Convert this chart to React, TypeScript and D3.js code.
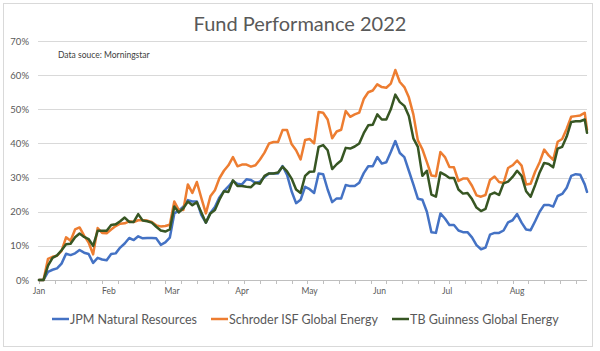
import React from 'react';
import * as d3 from 'd3';

// Calendar day offsets from 1 Jan 2022 at which values were read
const dayOffsets = [
  0, 2, 4, 6, 8, 10, 12, 14, 16, 18, 20, 22, 24, 26, 28, 30, 32, 34, 36, 38,
  40, 42, 44, 46, 48, 50, 52, 54, 56, 58, 60, 62, 64, 66, 68, 70, 72, 74, 76, 78,
  80, 82, 84, 86, 88, 90, 92, 94, 96, 98, 100, 102, 104, 106, 108, 110, 112, 114, 116, 118,
  120, 122, 124, 126, 128, 130, 132, 134, 136, 138, 140, 142, 144, 146, 148, 150, 152, 154, 156, 158,
  160, 162, 164, 166, 168, 170, 172, 174, 176, 178, 180, 182, 184, 186, 188, 190, 192, 194, 196, 198,
  200, 202, 204, 206, 208, 210, 212, 214, 216, 218, 220, 222, 224, 226, 228, 230, 232, 234, 236, 238,
  240, 242, 243,
];

const jpm = [
  0, 0, 2.4, 3.0, 3.4, 4.8, 7.7, 7.3, 7.8, 8.8, 8.0, 7.6, 5.0, 6.5, 6.0, 5.8, 7.6, 7.8, 9.5, 10.7,
  12.3, 11.7, 12.8, 12.2, 12.3, 12.3, 12.2, 10.3, 11.0, 12.4, 19.5, 20.3, 21.5, 23.4, 23.0, 23.0, 19.0, 16.8, 19.6, 21.4,
  24.2, 26.0, 27.4, 29.0, 28.2, 28.0, 29.5, 29.3, 28.4, 28.8, 30.2, 31.2, 31.2, 31.2, 33.4, 30.8, 26.0, 22.5, 23.5, 27.3,
  26.6, 25.5, 31.2, 31.0, 26.5, 22.8, 23.9, 23.9, 27.8, 27.5, 27.5, 28.5, 31.3, 33.3, 33.3, 36.0, 34.1, 34.5, 37.5, 40.7,
  37.2, 36.0, 32.0, 28.0, 23.8, 23.5, 20.0, 14.0, 13.8, 19.5, 18.0, 16.1, 16.1, 14.5, 14.0, 14.0, 12.5, 10.2, 9.0, 9.5,
  13.3, 13.8, 13.8, 14.5, 16.9, 17.5, 19.3, 16.8, 14.8, 14.6, 17.2, 20.0, 22.0, 22.0, 21.5, 24.6, 25.2, 27.0, 30.5, 31.0,
  30.8, 28.0, 25.8,
];

const schroder = [
  0, 0, 6.2, 6.8, 7.1, 8.5, 12.5, 11.5, 14.8, 15.4, 13.0, 11.0, 7.5, 15.2, 13.8, 13.7, 14.8, 15.8, 16.5, 16.6,
  17.2, 17.0, 17.5, 17.5, 17.4, 17.0, 16.0, 15.7, 15.8, 16.2, 23.0, 20.5, 20.5, 28.0, 25.5, 28.7, 24.0, 19.5, 24.5, 26.3,
  29.8, 32.0, 33.6, 36.0, 33.3, 33.8, 33.8, 33.2, 33.6, 35.3, 37.3, 40.0, 40.4, 40.4, 43.9, 43.9, 39.8, 38.0, 35.3, 41.0,
  41.3, 40.0, 49.2, 49.0, 47.0, 41.5, 43.5, 44.0, 49.5, 47.8, 48.5, 49.0, 53.0, 55.0, 55.5, 57.3, 56.5, 56.3, 57.5, 61.5,
  58.0, 56.5, 53.5, 48.5, 40.9, 38.3, 34.5, 30.6, 30.4, 37.5, 36.0, 33.1, 33.0, 29.0, 29.7, 29.7, 27.6, 24.8, 24.4, 24.9,
  29.3, 30.3, 28.7, 28.4, 32.8, 33.6, 35.0, 33.5, 28.0, 28.2, 31.7, 34.5, 38.2, 36.5, 35.2, 40.5, 41.3, 44.3, 47.8, 48.0,
  48.2, 49.0, 44.0,
];

const guinness = [
  0, 0, 4.2, 6.5, 7.2, 8.7, 10.5, 10.6, 12.5, 13.6, 12.6, 12.0, 10.0, 14.4, 14.4, 14.4, 16.1, 16.3, 17.2, 18.3,
  17.0, 17.0, 19.3, 17.4, 17.2, 16.8, 15.6, 14.5, 14.2, 14.8, 21.5, 19.8, 21.0, 23.0, 21.9, 22.8, 19.8, 16.8, 19.5, 20.5,
  23.5, 26.0, 25.8, 29.2, 27.5, 27.5, 27.3, 27.2, 28.5, 28.2, 30.5, 31.2, 31.2, 31.5, 33.2, 31.8, 29.7, 26.5, 25.5, 30.5,
  31.7, 31.8, 39.0, 39.5, 38.0, 32.5, 33.9, 35.0, 38.7, 38.5, 39.1, 40.0, 43.0, 45.3, 45.5, 48.5, 47.0, 47.0, 50.0, 54.3,
  52.1, 51.0, 48.0, 41.5, 39.0, 30.5, 32.0, 25.0, 24.4, 31.5, 30.8, 29.9, 29.9, 26.5, 25.3, 25.5, 23.7, 21.2, 20.2, 20.8,
  25.0, 25.6, 24.9, 28.3, 28.8, 30.2, 32.0, 30.5, 26.0, 24.4, 27.8, 31.5, 34.3, 34.0, 33.0, 38.5, 39.0, 42.0, 46.3, 46.5,
  46.5, 47.0, 43.1,
];

const seriesNames = ['JPM Natural Resources', 'Schroder ISF Global Energy', 'TB Guinness Global Energy'];
const seriesColors = ['#4472C4', '#ED7D31', '#375623'];
const yTicks = [0, 10, 20, 30, 40, 50, 60, 70];
const monthLabels = ['Jan', 'Feb', 'Mar', 'Apr', 'May', 'Jun', 'Jul', 'Aug'];
const titleText = 'Fund Performance 2022';
const sourceText = 'Data souce: Morningstar';

const W = 600;
const H = 351;
const FONT = 'Lato, "Open Sans", sans-serif';

export default function App() {
  const start = new Date(2022, 0, 1);
  const end = new Date(2022, 8, 1);
  const x = d3.scaleTime().domain([start, end]).range([39, 587]);
  const y = d3.scaleLinear().domain([0, 70]).range([280, 41]);
  const dates = dayOffsets.map((d) => d3.timeDay.offset(start, d));
  const allSeries = [jpm, schroder, guinness];
  const line = d3
    .line<[Date, number]>()
    .x((d) => x(d[0]))
    .y((d) => y(d[1]));

  const weekTicks = d3.timeSaturday.range(start, d3.timeDay.offset(end, 1));
  const monthTicks = d3.timeMonth.range(start, end);
  const [x0, x1] = x.range();

  const legendX = [52, 211, 392];
  const legendY = 319;

  return (
    <div style={{ position: 'fixed', left: 0, top: 0 }}>
      <svg width={W} height={H} style={{ display: 'block', background: '#fff' }}>
        <rect x={3.5} y={3.5} width={589} height={343} fill="#fff" stroke="#d9d9d9" strokeWidth={1} />
        <text x={300} y={31} textAnchor="middle" fontFamily={FONT} fontSize={20} fill="#595959">
          {titleText}
        </text>
        {yTicks.map((t) => (
          <g key={t}>
            {t > 0 && (
              <line x1={x0 - 1} x2={x1} y1={Math.round(y(t)) + 0.5} y2={Math.round(y(t)) + 0.5} stroke="#d9d9d9" strokeWidth={1} />
            )}
            <text x={29} y={y(t) + 3.5} textAnchor="end" fontFamily={FONT} fontSize={9.5} fill="#595959">
              {t + '%'}
            </text>
          </g>
        ))}
        <line x1={x0 - 1} x2={x1} y1={Math.round(y(0)) + 0.5} y2={Math.round(y(0)) + 0.5} stroke="#bfbfbf" strokeWidth={1} />
        {weekTicks.map((d, i) => (
          <line key={i} x1={Math.round(x(d)) + 0.5} x2={Math.round(x(d)) + 0.5} y1={y(0)} y2={y(0) + 4} stroke="#bfbfbf" strokeWidth={1} />
        ))}
        {monthTicks.map((d, i) => (
          <text key={i} x={x(d)} y={294} textAnchor="middle" fontFamily={FONT} fontSize={8.5} fill="#595959">
            {monthLabels[i]}
          </text>
        ))}
        <text x={58} y={58} fontFamily={FONT} fontSize={8.5} fill="#404040">
          {sourceText}
        </text>
        {allSeries.map((vals, si) => (
          <path
            key={si}
            d={line(dates.map((dt, i) => [dt, vals[i]] as [Date, number])) || ''}
            fill="none"
            stroke={seriesColors[si]}
            strokeWidth={2.5}
            strokeLinejoin="round"
            strokeLinecap="round"
          />
        ))}
        {seriesNames.map((name, i) => (
          <g key={name}>
            <line x1={legendX[i]} x2={legendX[i] + 17} y1={legendY} y2={legendY} stroke={seriesColors[i]} strokeWidth={2.5} />
            <text x={legendX[i] + 18} y={legendY + 4.5} fontFamily={FONT} fontSize={12.5} fill="#595959">
              {name}
            </text>
          </g>
        ))}
      </svg>
    </div>
  );
}
